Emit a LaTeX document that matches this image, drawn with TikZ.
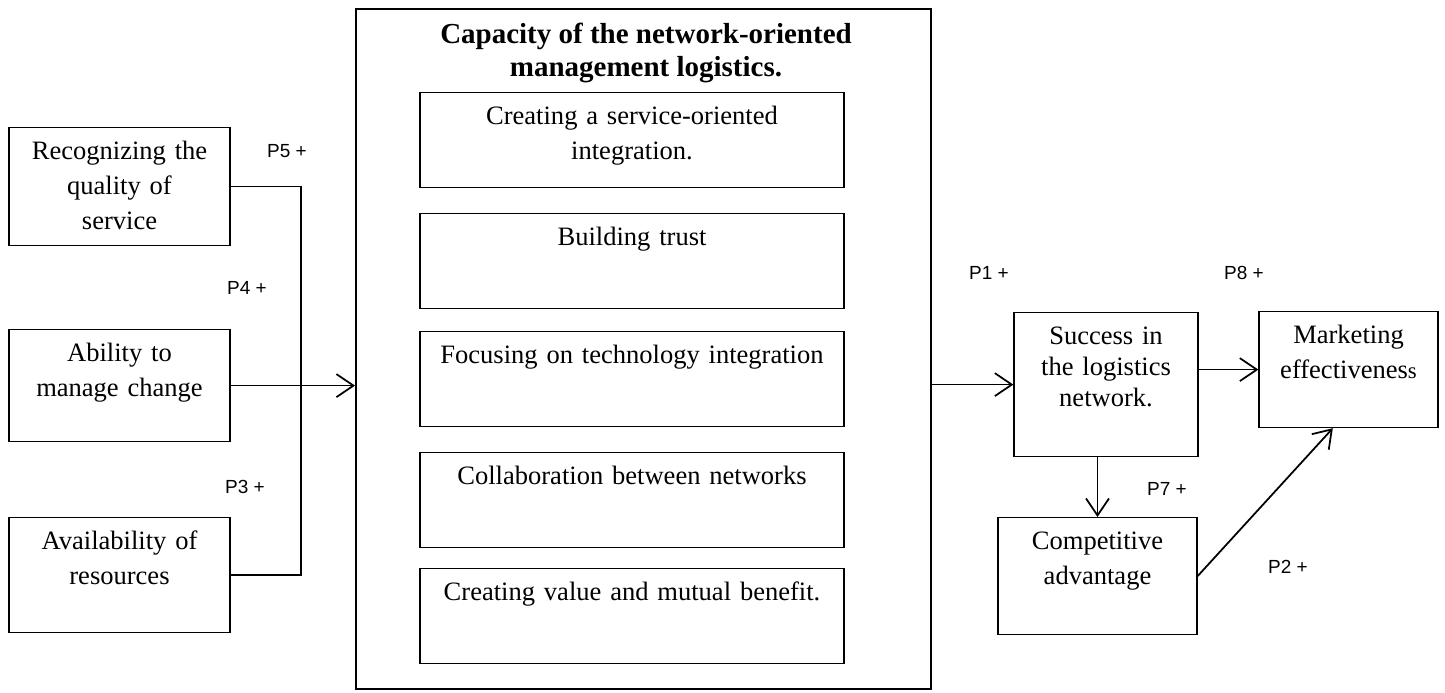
\documentclass[tikz,border=0pt]{standalone}
\usepackage{fontspec}
\setmainfont{Liberation Serif}
\newfontfamily\plabelfont{Liberation Sans}
\usetikzlibrary{arrows.meta}

\tikzset{
  tbox/.style={draw, line width=0.7pt, anchor=north, inner xsep=0pt, inner ysep=0pt,
    align=center, font=\fontsize{15.1pt}{19.9pt}\selectfont, text height=0.64cm, text depth=#1},
  plabel/.style={font=\plabelfont\fontsize{10.8pt}{13pt}\selectfont},
  link/.style={line width=1pt},
  arr/.style={line width=1pt, -{Straight Barb[length=0.34cm, width=0.46cm]}}
}

\begin{document}
\begin{tikzpicture}
    \useasboundingbox (0, 0) rectangle (28.9, -13.86);

    \node[draw, line width=1.1pt, minimum width=11.5cm, minimum height=13.6cm, inner sep=0pt] (Main) at (12.87, -6.98) {};
    \node[font=\bfseries\fontsize{16.5pt}{19.3pt}\selectfont, align=center] (Title) at (12.92, -1.06) {Capacity of the network-oriented\\management logistics.};

    \node[tbox=1.26cm, text width=8.48cm] (Service) at (12.64, -1.84) {Creating a service-oriented\\integration.};
    \node[tbox=1.26cm, text width=8.48cm] (Trust) at (12.64, -4.26) {Building trust};
    \node[tbox=1.26cm, text width=8.48cm] (Tech) at (12.64, -6.62) {Focusing on technology integration};
    \node[tbox=1.26cm, text width=8.48cm] (Collab) at (12.64, -9.04) {Collaboration between networks};
    \node[tbox=1.26cm, text width=8.48cm] (Value) at (12.64, -11.36) {Creating value and mutual benefit.};

    \node[tbox=1.72cm, text width=4.42cm] (Recog) at (2.39, -2.54) {Recognizing the\\quality of\\service};
    \node[tbox=1.60cm, text width=4.42cm] (Ability) at (2.39, -6.58) {Ability to\\manage change};
    \node[tbox=1.66cm, text width=4.42cm] (Avail) at (2.39, -10.34) {Availability of\\resources};

    \node[tbox=2.24cm, text width=3.68cm, font=\fontsize{15.1pt}{17.6pt}\selectfont] (Success) at (22.12, -6.24) {Success in\\the logistics\\network.};
    \node[tbox=1.68cm, text width=3.58cm] (Market) at (26.97, -6.22) {Marketing\\effectivenes{\fontsize{13pt}{19.9pt}\selectfont s}};
    \node[tbox=1.70cm, text width=3.98cm] (Compet) at (21.95, -10.34) {Competitive\\advantage};

    \node[plabel] (P5) at (5.74, -3.02) {P5 +};
    \node[plabel] (P4) at (4.94, -5.76) {P4 +};
    \node[plabel] (P3) at (4.90, -9.74) {P3 +};
    \node[plabel] (P1) at (19.78, -5.46) {P1 +};
    \node[plabel] (P8) at (24.88, -5.46) {P8 +};
    \node[plabel] (P7) at (23.34, -9.78) {P7 +};
    \node[plabel] (P2) at (25.76, -11.34) {P2 +};

    \coordinate (bus) at (6.02, 0);
    \draw[link] (Recog.east) -| (bus |- Avail.east) -- (Avail.east);
    \draw[arr] (Ability.east) -- (Ability.east -| Main.west);
    \draw[arr] (Main.east |- Success.west) -- (Success.west);
    \draw[arr] (Success.east |- Market.west) -- (Market.west);
    \draw[arr] (Compet.north |- Success.south) -- (Compet.north);
    \draw[arr] (Compet.east) -- (Market.255);
  \end{tikzpicture}
\end{document}
